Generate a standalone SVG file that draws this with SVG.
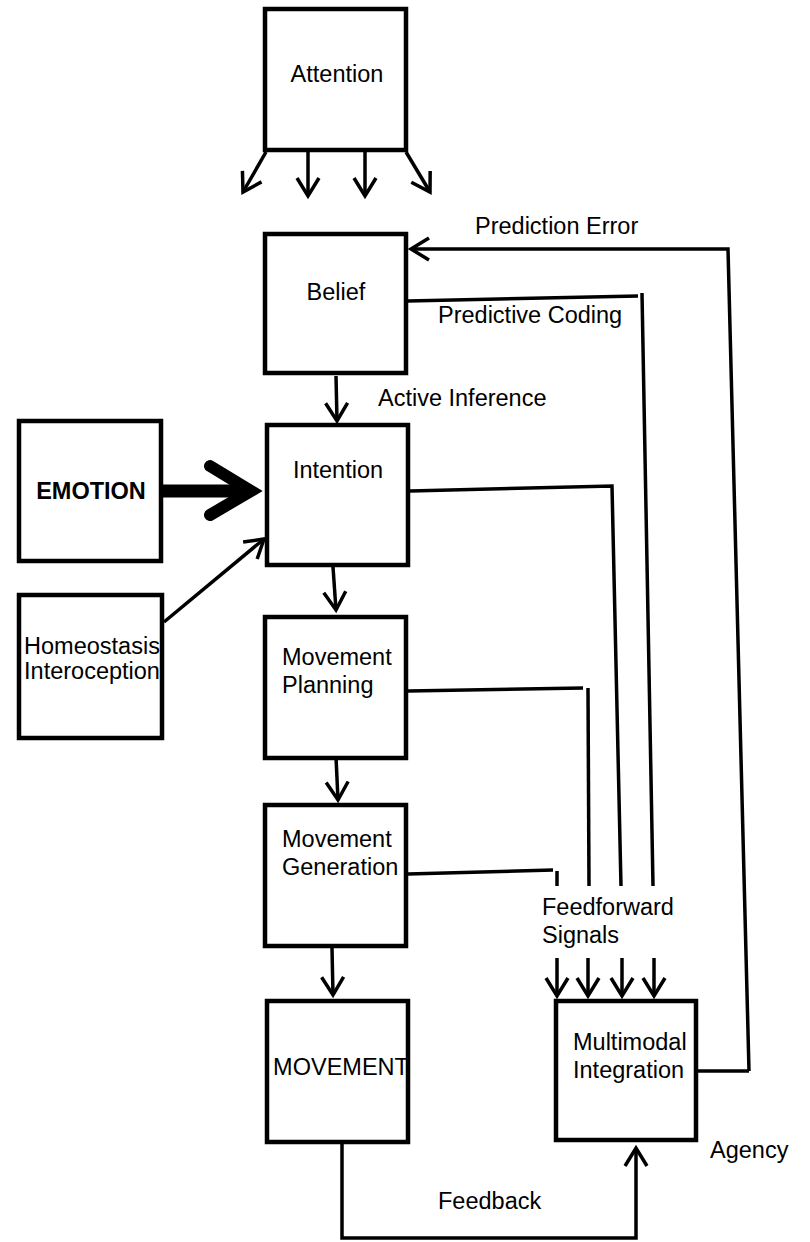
<svg xmlns="http://www.w3.org/2000/svg" width="810" height="1242" viewBox="0 0 810 1242">
<style>
.box{fill:#fff;stroke:#000;stroke-width:4.5}
.t{font-family:"Liberation Sans",Arial,sans-serif;font-size:23.5px;fill:#000}
.c{text-anchor:middle}
.ln{fill:none;stroke:#000;stroke-width:3.5}
.ar{fill:none;stroke:#000;stroke-width:3.5;marker-end:url(#ah)}
</style>
<defs>
<marker id="ah" markerUnits="userSpaceOnUse" viewBox="-22 -14 26 28" refX="0" refY="0" markerWidth="26" markerHeight="28" orient="auto">
<path d="M-18,-11 L0,0 L-18,11" fill="none" stroke="#000" stroke-width="3.5"/>
</marker>
</defs>
<rect width="810" height="1242" fill="#fff"/>
<g id="connectors">
<line class="ar" x1="266" y1="152" x2="243" y2="192"/>
<line class="ar" x1="308" y1="148" x2="308" y2="196"/>
<line class="ar" x1="365" y1="148" x2="365" y2="196"/>
<line class="ar" x1="406" y1="152" x2="430" y2="192"/>
<polyline class="ar" points="749,1071 728,249 411,249"/>
<polyline class="ln" points="408,301 638,296"/>
<line class="ln" x1="642" y1="293" x2="653" y2="886"/>
<line class="ar" x1="336" y1="376" x2="337" y2="421"/>
<line fill="none" stroke="#000" stroke-width="13" x1="162" y1="491" x2="245" y2="491"/>
<polyline points="210,466 251,491 210,515" fill="none" stroke="#000" stroke-width="12" stroke-linecap="round" stroke-linejoin="miter" stroke-miterlimit="4"/>
<line class="ar" x1="164" y1="622" x2="264" y2="539"/>
<polyline class="ln" points="410,491 612,486 621,886"/>
<line class="ar" x1="333" y1="567" x2="336" y2="610"/>
<polyline class="ln" points="408,691 583,688"/>
<line class="ln" x1="588" y1="688" x2="589" y2="886"/>
<line class="ar" x1="336" y1="757" x2="338" y2="800"/>
<polyline class="ln" points="408,874 553,870"/>
<line class="ln" x1="557" y1="871" x2="557" y2="886"/>
<line class="ar" x1="332" y1="948" x2="333" y2="995"/>
<line class="ar" x1="557" y1="958" x2="557" y2="996"/>
<line class="ar" x1="588" y1="958" x2="588" y2="996"/>
<line class="ar" x1="622" y1="958" x2="622" y2="996"/>
<line class="ar" x1="654" y1="958" x2="654" y2="996"/>
<polyline class="ln" points="698,1071 749,1071"/>
<polyline class="ar" points="342,1144 342,1238 636,1238 636,1148"/>
<text class="t" x="475" y="234">Prediction Error</text>
<text class="t" x="438" y="323">Predictive Coding</text>
<text class="t" x="378" y="406">Active Inference</text>
<text class="t" x="542" y="915">Feedforward</text>
<text class="t" x="542" y="943">Signals</text>
<text class="t" x="438" y="1209">Feedback</text>
<text class="t" x="710" y="1158">Agency</text>
</g>
<g id="attention">
<rect class="box" x="265" y="9" width="141" height="141"/>
<text class="t c" x="337" y="82">Attention</text>
</g>
<g id="belief">
<rect class="box" x="265" y="234" width="141" height="139"/>
<text class="t c" x="336" y="300">Belief</text>
</g>
<g id="intention">
<rect class="box" x="267" y="425" width="141" height="140"/>
<text class="t c" x="338" y="478">Intention</text>
</g>
<g id="emotion">
<rect class="box" x="19" y="421" width="142" height="140"/>
<text class="t c" x="91" y="499" font-weight="bold">EMOTION</text>
</g>
<g id="homeostasis">
<rect class="box" x="19" y="595" width="143" height="143"/>
<text class="t c" x="92" y="654">Homeostasis</text>
<text class="t c" x="92" y="679">Interoception</text>
</g>
<g id="planning">
<rect class="box" x="265" y="617" width="141" height="141"/>
<text class="t" x="282" y="665">Movement</text>
<text class="t" x="282" y="693">Planning</text>
</g>
<g id="generation">
<rect class="box" x="265" y="805" width="141" height="141"/>
<text class="t" x="282" y="847">Movement</text>
<text class="t" x="282" y="875">Generation</text>
</g>
<g id="movement">
<rect class="box" x="267" y="1001" width="141" height="141"/>
<text class="t c" x="341" y="1075">MOVEMENT</text>
</g>
<g id="multimodal">
<rect class="box" x="556" y="1001" width="140" height="139"/>
<text class="t" x="573" y="1050">Multimodal</text>
<text class="t" x="573" y="1078">Integration</text>
</g>
</svg>
